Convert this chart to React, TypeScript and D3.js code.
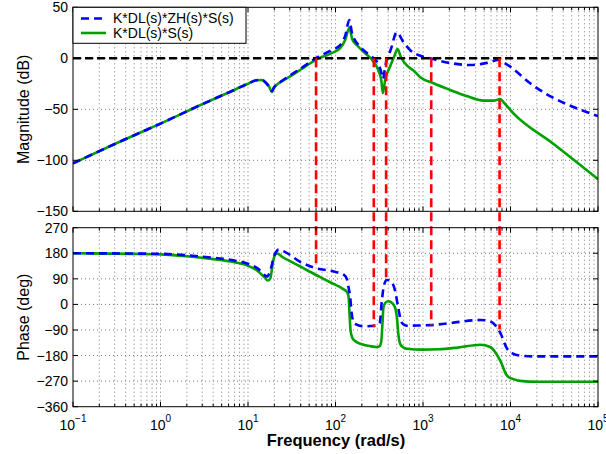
import React from 'react';
import * as d3 from 'd3';

const W = 606;
const H = 454;

const magTicks = [50, 0, -50, -100, -150];
const phaseTicks = [270, 180, 90, 0, -90, -180, -270, -360];
const freqExponents = [-1, 0, 1, 2, 3, 4, 5];
const legendLabels = ['K*DL(s)*ZH(s)*S(s)', 'K*DL(s)*S(s)'];

// [frequency rad/s, magnitude dB]
const blueMag: [number, number][] = [
  [0.1, -103], [0.3, -84], [1, -64], [3, -45], [6, -33.5], [10, -25], [12.5, -21.5], [14.5, -21.3],
  [16, -24], [17.5, -28], [18.7, -32], [20, -28], [24, -22.5], [30, -17], [40, -10], [61, 0.6],
  [90, 8], [113, 13], [129, 22], [144, 37.5], [155, 24], [191, 11.4], [230, 5], [272, 0], [310, -6],
  [335, -14], [350, -20], [370, -8], [430, 9], [501, 25.5], [597, 16], [713, 8], [929, 2.5],
  [1200, 0], [2000, -4.5], [3470, -6.6], [5370, -4.5], [7300, -1.7], [8500, -4.5], [9930, -8.2],
  [16800, -24.5], [100000, -56.6],
];

const greenMag: [number, number][] = [
  [0.1, -103], [0.3, -84], [1, -64], [3, -45], [6, -33.5], [10, -25], [12.5, -21.5], [14.5, -21.3],
  [16, -24], [17.5, -28], [18.7, -33], [20, -28.5], [24, -23], [30, -18], [40, -11], [61, -1],
  [90, 5], [113, 10], [129, 18], [144, 30], [155, 19], [175, 13], [220, 4.7], [272, -3.3],
  [310, -12], [333, -21], [348, -34], [370, -21], [420, -8], [470, 2], [511, 9], [560, 1],
  [653, -7], [779, -12], [929, -18.5], [1318, -24.5], [2040, -31], [3150, -37], [4920, -41.5],
  [6400, -41.5], [7640, -40], [8500, -44], [10800, -54], [31100, -84], [100000, -118.5],
];

// [frequency rad/s, phase deg]
const bluePhase: [number, number][] = [
  [0.1, 180], [1, 178], [3, 168], [6.5, 156], [10, 143], [13, 126], [15.5, 103], [16.5, 98],
  [18, 120], [20, 172], [22.5, 193], [26, 186], [39.4, 150], [56, 130], [95, 116], [125, 104],
  [135, 90], [141, 60], [147, 27], [153, -32], [160, -60], [166, -68], [209, -77], [250, -76],
  [297, -74], [320, -65], [339, 15], [360, 70], [387, 86], [421, 84], [480, 48], [520, -10],
  [567, -62], [620, -73], [654, -75], [929, -74], [1200, -73], [2000, -66], [4510, -55],
  [5500, -57], [6400, -67], [7640, -100], [9120, -155], [10500, -172], [12900, -180],
  [20000, -183], [100000, -183],
];

const greenPhase: [number, number][] = [
  [0.1, 180], [0.5, 178], [1, 176], [2.8, 165], [6.5, 150], [10, 136], [13, 117], [15.5, 95],
  [16.8, 84], [18, 92], [19.3, 150], [20.5, 176], [21.5, 179], [25, 166], [36, 140], [51, 115],
  [87, 78], [124, 53], [136, 43], [141, 28], [145, -40], [149, -95], [156, -118], [166, -128],
  [200, -140], [250, -147], [297, -150], [320, -147], [334, -128], [345, -60], [353, -10],
  [370, 5], [400, 11], [430, 8], [470, -5], [501, -40], [525, -110], [548, -139], [600, -152],
  [654, -156], [1000, -159], [1500, -158], [2500, -152], [4510, -142], [5860, -150],
  [7640, -198], [9120, -251], [10800, -263], [12900, -269], [20000, -272], [100000, -272],
];

// 0 dB crossover frequencies and the phase reached by the red guide lines
const crossFreqs = [60, 274, 379, 1242, 7500];
const crossPhase = [135, -80, 85, -74, -88];

const FONT = "'Liberation Sans', Arial, Helvetica, sans-serif";

export default function App() {
  const left = 73;
  const right = 598;
  const x = d3.scaleLog().domain([0.1, 1e5]).range([left, right]);
  const yMag = d3.scaleLinear().domain([-150, 50]).range([211.3, 7.3]);
  const yPh = d3.scaleLinear().domain([-360, 270]).range([406.7, 227.7]);

  const magLine = d3
    .line<[number, number]>()
    .x((d) => x(d[0]))
    .y((d) => yMag(d[1]))
    .curve(d3.curveMonotoneX);
  const phLine = d3
    .line<[number, number]>()
    .x((d) => x(d[0]))
    .y((d) => yPh(d[1]))
    .curve(d3.curveMonotoneX);

  const majors = freqExponents.map((e) => Math.pow(10, e));
  const minors: number[] = [];
  for (let e = -1; e < 5; e++) {
    for (let k = 2; k <= 9; k++) minors.push(k * Math.pow(10, e));
  }

  const gridStyle = { stroke: '#777', strokeWidth: 1, strokeDasharray: '1 3', fill: 'none' };

  const panel = (
    key: string,
    y: d3.ScaleLinear<number, number>,
    ticks: number[],
    showXLabels: boolean
  ) => {
    const [yb, yt] = y.range();
    return (
      <g key={key}>
        <rect x={left} y={yt} width={right - left} height={yb - yt} fill="#fff" />
        {[...majors, ...minors].map((f, i) =>
          f > 0.1 && f < 1e5 ? (
            <line key={'vg' + i} x1={x(f)} x2={x(f)} y1={yt} y2={yb} style={gridStyle} />
          ) : null
        )}
        {ticks.map((t, i) =>
          y(t) > yt + 0.5 && y(t) < yb - 0.5 ? (
            <line key={'hg' + i} x1={left} x2={right} y1={y(t)} y2={y(t)} style={gridStyle} />
          ) : null
        )}
      </g>
    );
  };

  const frame = (key: string, y: d3.ScaleLinear<number, number>, ticks: number[], showXLabels: boolean) => {
    const [yb, yt] = y.range();
    return (
      <g key={key}>
        <rect x={left} y={yt} width={right - left} height={yb - yt} fill="none" stroke="#000" strokeWidth={1} />
        {majors.map((f, i) => (
          <g key={'mt' + i}>
            <line x1={x(f)} x2={x(f)} y1={yb} y2={yb - 5} stroke="#000" />
            <line x1={x(f)} x2={x(f)} y1={yt} y2={yt + 5} stroke="#000" />
          </g>
        ))}
        {minors.map((f, i) => (
          <g key={'nt' + i}>
            <line x1={x(f)} x2={x(f)} y1={yb} y2={yb - 3} stroke="#000" />
            <line x1={x(f)} x2={x(f)} y1={yt} y2={yt + 3} stroke="#000" />
          </g>
        ))}
        {ticks.map((t, i) => (
          <g key={'yt' + i}>
            <line x1={left} x2={left + 5} y1={y(t)} y2={y(t)} stroke="#000" />
            <line x1={right} x2={right - 5} y1={y(t)} y2={y(t)} stroke="#000" />
            <text
              x={68}
              y={y(t)}
              dy="0.36em"
              textAnchor="end"
              fontFamily={FONT}
              fontSize={14}
              fill="#000"
            >
              {t < 0 ? '\u2212' + Math.abs(t) : String(t)}
            </text>
          </g>
        ))}
        {showXLabels &&
          freqExponents.map((e, i) => (
            <text
              key={'xl' + i}
              x={x(Math.pow(10, e))}
              y={429.5}
              textAnchor="middle"
              fontFamily={FONT}
              fontSize={14}
              fill="#000"
            >
              10
              <tspan dy={-8} fontSize={10}>
                {e < 0 ? '\u2212' + Math.abs(e) : String(e)}
              </tspan>
            </text>
          ))}
      </g>
    );
  };

  const [mb, mt] = yMag.range();
  const [pb, pt] = yPh.range();

  return (
    <svg
      width={W}
      height={H}
      style={{ position: 'absolute', left: 0, top: 0, background: '#fff' }}
      xmlns="http://www.w3.org/2000/svg"
    >
      <defs>
        <clipPath id="clipMag">
          <rect x={left} y={mt} width={right - left} height={mb - mt} />
        </clipPath>
        <clipPath id="clipPh">
          <rect x={left} y={pt} width={right - left} height={pb - pt} />
        </clipPath>
      </defs>
      <rect x={0} y={0} width={W} height={H} fill="#fff" />
      {panel('pm', yMag, magTicks, false)}
      {panel('pp', yPh, phaseTicks, true)}

      <g clipPath="url(#clipMag)">
        <path d={magLine(greenMag) || ''} fill="none" stroke="#00a000" strokeWidth={2.6} />
        <path
          d={magLine(blueMag) || ''}
          fill="none"
          stroke="#0000ff"
          strokeWidth={2.6}
          strokeDasharray="8 5"
        />
        <path d={magLine(greenMag) || ''} fill="none" stroke="#00a000" strokeWidth={2.6} opacity={0} />
        <line
          x1={left}
          x2={right}
          y1={yMag(0)}
          y2={yMag(0)}
          stroke="#000"
          strokeWidth={2.6}
          strokeDasharray="8 4"
        />
      </g>
      <g clipPath="url(#clipPh)">
        <path d={phLine(greenPhase) || ''} fill="none" stroke="#00a000" strokeWidth={2.6} />
        <path
          d={phLine(bluePhase) || ''}
          fill="none"
          stroke="#0000ff"
          strokeWidth={2.6}
          strokeDasharray="8 5"
        />
      </g>

      {crossFreqs.map((f, i) => (
        <line
          key={'cr' + i}
          x1={x(f)}
          x2={x(f)}
          y1={yMag(0)}
          y2={yPh(crossPhase[i])}
          stroke="#ff0000"
          strokeWidth={2.6}
          strokeDasharray="9 5"
        />
      ))}

      {frame('fm', yMag, magTicks, false)}
      {frame('fp', yPh, phaseTicks, true)}

      {/* legend */}
      <g>
        <rect x={left} y={mt} width={173} height={36} fill="#fff" stroke="#000" strokeWidth={1} />
        <line x1={81} x2={106} y1={18.5} y2={18.5} stroke="#0000ff" strokeWidth={2.6} strokeDasharray="8 5" />
        <text x={113} y={23} fontFamily={FONT} fontSize={14} fill="#000">
          {legendLabels[0]}
        </text>
        <line x1={81} x2={106} y1={33} y2={33} stroke="#00a000" strokeWidth={2.6} />
        <text x={113} y={37.5} fontFamily={FONT} fontSize={14} fill="#000">
          {legendLabels[1]}
        </text>
      </g>

      <text
        transform={`translate(29,${(mt + mb) / 2}) rotate(-90)`}
        textAnchor="middle"
        fontFamily={FONT}
        fontSize={16}
        fill="#000"
      >
        Magnitude (dB)
      </text>
      <text
        transform={`translate(29,${(pt + pb) / 2}) rotate(-90)`}
        textAnchor="middle"
        fontFamily={FONT}
        fontSize={16}
        fill="#000"
      >
        Phase (deg)
      </text>
      <text x={336} y={446} textAnchor="middle" fontFamily={FONT} fontSize={16.5} fontWeight="bold" fill="#000">
        Frequency (rad/s)
      </text>
    </svg>
  );
}
